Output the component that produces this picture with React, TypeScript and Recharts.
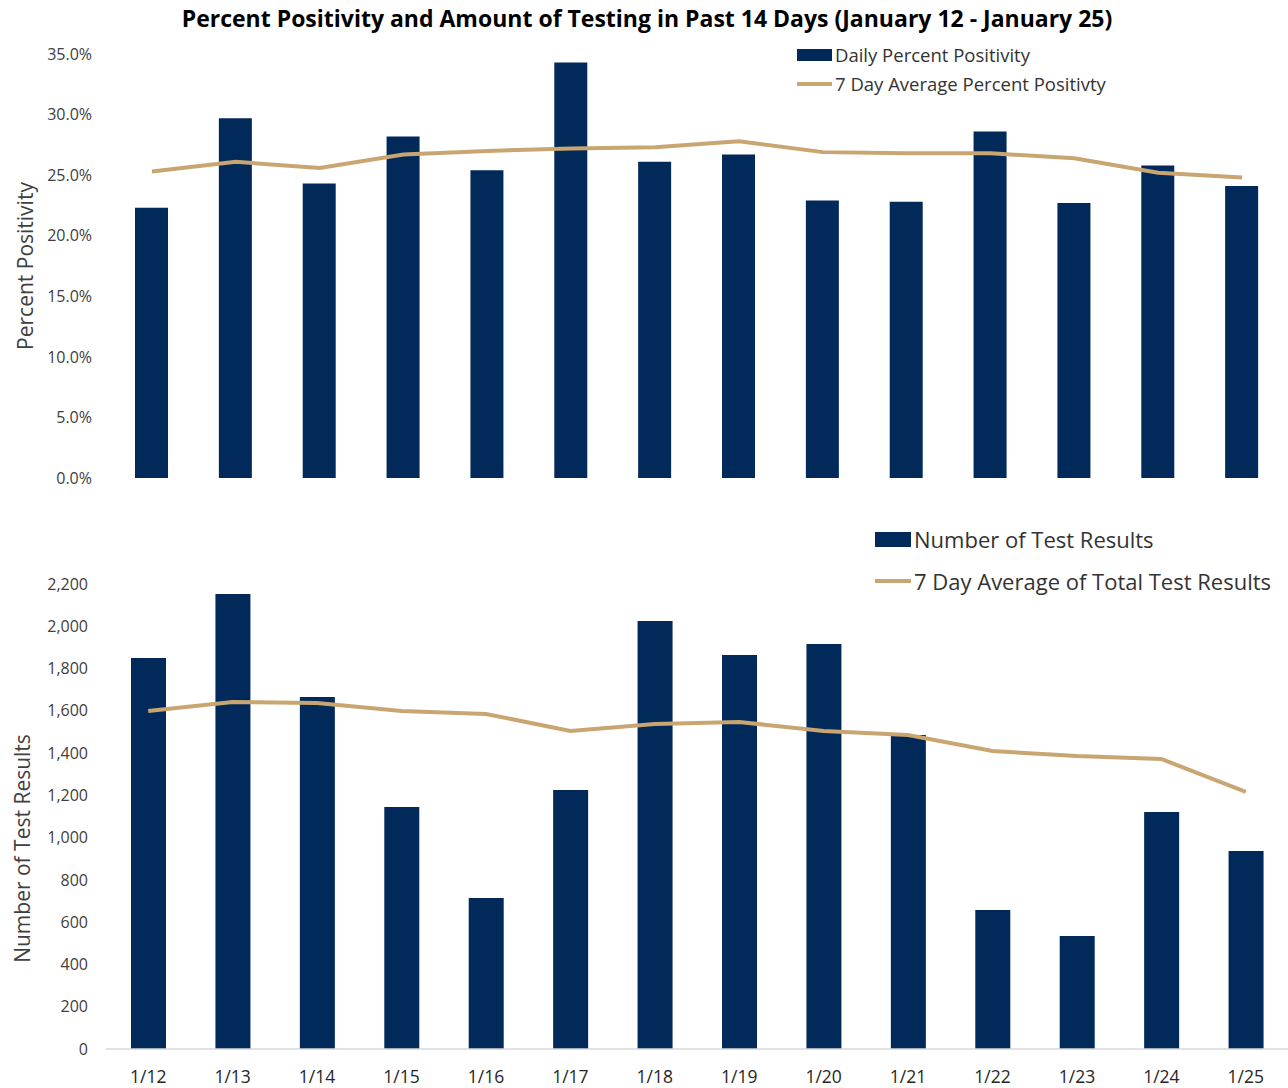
import { ComposedChart, Bar, Line, XAxis, YAxis } from 'recharts';

const days = ['1/12', '1/13', '1/14', '1/15', '1/16', '1/17', '1/18', '1/19', '1/20', '1/21', '1/22', '1/23', '1/24', '1/25'];
const dailyPositivity = [22.3, 29.7, 24.3, 28.2, 25.4, 34.3, 26.1, 26.7, 22.9, 22.8, 28.6, 22.7, 25.8, 24.1];
const avgPositivity = [25.3, 26.1, 25.6, 26.7, 27.0, 27.2, 27.3, 27.8, 26.9, 26.8, 26.8, 26.4, 25.2, 24.8];
const testResults = [1850, 2153, 1665, 1145, 714, 1225, 2025, 1864, 1916, 1486, 658, 535, 1121, 937];
const avgTestResults = [1599, 1642, 1637, 1599, 1585, 1505, 1538, 1547, 1505, 1486, 1410, 1386, 1372, 1216];

const pctTicks = [0, 5, 10, 15, 20, 25, 30, 35];
const countTicks = [0, 200, 400, 600, 800, 1000, 1200, 1400, 1600, 1800, 2000, 2200];

const NAVY = '#012a5b';
const TAN = '#c9a671';
const FONT = '"Open Sans", Lato, sans-serif';

const positivityData = days.map((d, i) => ({ day: d, daily: dailyPositivity[i], avg: avgPositivity[i] }));
const testData = days.map((d, i) => ({ day: d, count: testResults[i], avg: avgTestResults[i] }));

function AxisTitle(props: any) {
  const { viewBox, value, cx, size, shift = 0 } = props;
  const cy = viewBox.y + viewBox.height / 2 + shift;
  return (
    <text x={cx} y={cy} transform={`rotate(-90, ${cx}, ${cy})`} textAnchor="middle" dominantBaseline="central"
      fill="#404040" fontSize={size} fontFamily={FONT}>{value}</text>
  );
}

// legend drawn as a plain overlay so it does not push the plot area down
function ChartLegend(props: { left: number; top: number; barName: string; lineName: string; fontSize: number; swatchW: number; swatchH: number; rowGap: number }) {
  const { left, top, barName, lineName, fontSize, swatchW, swatchH, rowGap } = props;
  return (
    <div style={{ position: 'absolute', left, top, fontFamily: FONT, fontSize, color: '#333', whiteSpace: 'nowrap' }}>
      <div style={{ display: 'flex', alignItems: 'center', height: rowGap }}>
        <span style={{ display: 'inline-block', width: swatchW, height: swatchH, background: NAVY, marginRight: 3 }} />
        <span>{barName}</span>
      </div>
      <div style={{ display: 'flex', alignItems: 'center', height: rowGap }}>
        <span style={{ display: 'inline-block', width: swatchW, height: 4, background: TAN, marginRight: 3 }} />
        <span>{lineName}</span>
      </div>
    </div>
  );
}

export default function App() {
  return (
    <div style={{ position: 'absolute', left: 0, top: 0, width: 1288, height: 1088, background: '#fff', fontFamily: FONT }}>
      <div style={{ position: 'absolute', top: 2, left: 0, width: 1294, textAlign: 'center', fontWeight: 700, fontSize: 23, color: '#000' }}>
        Percent Positivity and Amount of Testing in Past 14 Days (January 12 - January 25)
      </div>

      <div style={{ position: 'absolute', top: 0, left: 0 }}>
        <ComposedChart width={1288} height={500} data={positivityData} margin={{ top: 54, right: 4, left: 0, bottom: 22 }} barCategoryGap={0}>
          <XAxis dataKey="day" hide />
          <YAxis domain={[0, 35]} ticks={pctTicks} width={110} axisLine={false} tickLine={false} tickSize={0} tickMargin={18}
            tickFormatter={(v: number) => v.toFixed(1) + '%'} tick={{ fill: '#404040', fontSize: 16, fontFamily: FONT }}
            label={(p: any) => <AxisTitle {...p} value="Percent Positivity" cx={25} size={21} />} />
          <Bar dataKey="daily" fill={NAVY} barSize={33} isAnimationActive={false} />
          <Line dataKey="avg" type="linear" stroke={TAN} strokeWidth={4} dot={false} activeDot={false} isAnimationActive={false} />
        </ComposedChart>
      </div>
      <ChartLegend left={797} top={40} barName="Daily Percent Positivity" lineName="7 Day Average Percent Positivty"
        fontSize={18.5} swatchW={35} swatchH={12} rowGap={29} />

      <div style={{ position: 'absolute', top: 520, left: 0 }}>
        <ComposedChart width={1288} height={568} data={testData} margin={{ top: 64, right: 0, left: 0, bottom: 0 }} barCategoryGap={0}>
          <XAxis dataKey="day" height={39} axisLine={{ stroke: '#d9d9d9', strokeWidth: 1.5 }} tickLine={false} tickSize={0} tickMargin={22}
            tick={{ fill: '#262626', fontSize: 17.5, fontFamily: FONT }} interval={0} />
          <YAxis domain={[0, 2200]} ticks={countTicks} width={106} axisLine={false} tickLine={false} tickSize={0} tickMargin={18}
            tickFormatter={(v: number) => v.toLocaleString('en-US')} tick={{ fill: '#404040', fontSize: 16, fontFamily: FONT }}
            label={(p: any) => <AxisTitle {...p} value="Number of Test Results" cx={22} size={21} shift={32} />} />
          <Bar dataKey="count" fill={NAVY} barSize={35} isAnimationActive={false} />
          <Line dataKey="avg" type="linear" stroke={TAN} strokeWidth={4} dot={false} activeDot={false} isAnimationActive={false} />
        </ComposedChart>
      </div>
      <ChartLegend left={875} top={518} barName="Number of Test Results" lineName="7 Day Average of Total Test Results"
        fontSize={22} swatchW={36} swatchH={15} rowGap={42} />
    </div>
  );
}
